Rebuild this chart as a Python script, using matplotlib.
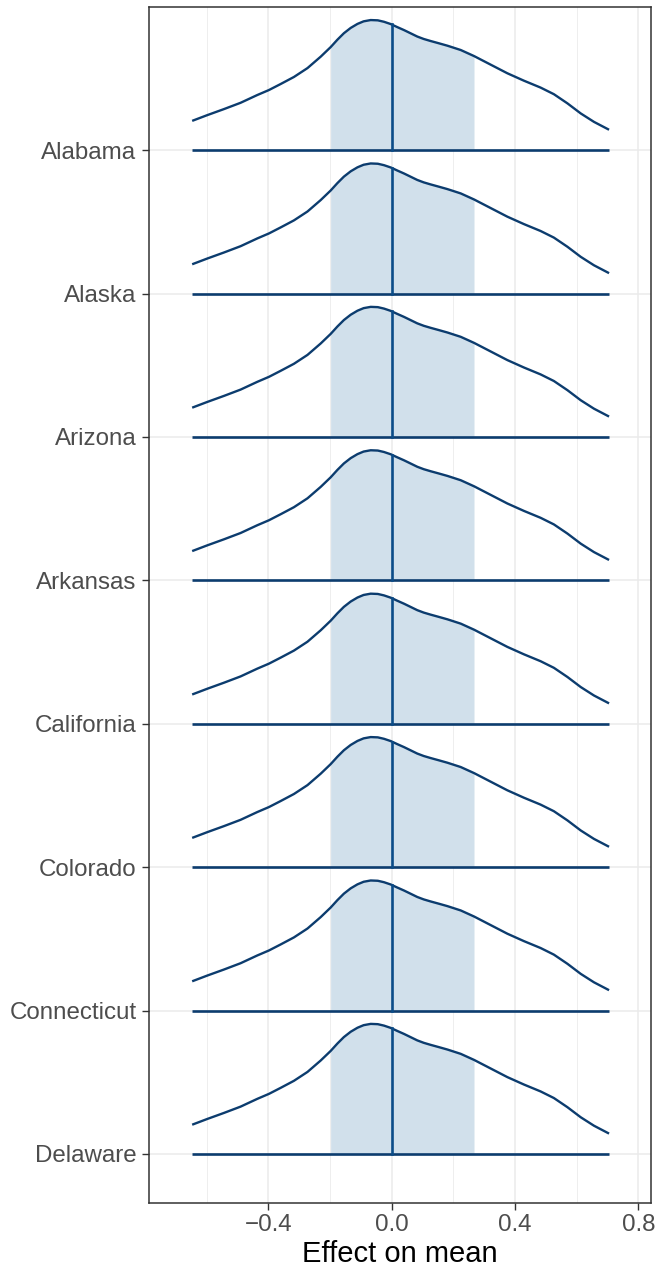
import numpy as np
import matplotlib
import matplotlib.pyplot as plt
matplotlib.use('agg')

# states, top to bottom
STATES = ['Alabama', 'Alaska', 'Arizona', 'Arkansas',
          'California', 'Colorado', 'Connecticut', 'Delaware']

# density curve (same for every state), height in row units
DENS_X = [-0.647, -0.598, -0.544, -0.490, -0.436, -0.398, -0.360, -0.317,
          -0.273, -0.230, -0.198, -0.176, -0.155, -0.133, -0.111, -0.091,
          -0.068, -0.045, -0.025, -0.003, 0.018, 0.040, 0.062, 0.083,
          0.104, 0.126, 0.153, 0.181, 0.224, 0.267, 0.321, 0.375,
          0.429, 0.483, 0.526, 0.570, 0.613, 0.656, 0.705]
DENS_Y = [0.204, 0.244, 0.286, 0.330, 0.384, 0.419, 0.461, 0.510,
          0.572, 0.652, 0.718, 0.770, 0.815, 0.852, 0.880, 0.898,
          0.907, 0.905, 0.895, 0.879, 0.858, 0.837, 0.814, 0.792,
          0.775, 0.761, 0.745, 0.728, 0.698, 0.656, 0.596, 0.536,
          0.484, 0.436, 0.390, 0.326, 0.256, 0.197, 0.142]

MEDIAN = 0.0
INTERVAL = (-0.198, 0.267)
XTICKS = [-0.4, 0.0, 0.4, 0.8]
XMINOR = [-0.6, -0.2, 0.2, 0.6]

LINE_COL = '#0C3C6E'
MED_COL = '#0B4C88'
FILL_COL = '#D1E0EB'

plt.rcParams['font.family'] = ['Liberation Sans', 'DejaVu Sans']

fig = plt.figure(figsize=(6.56, 12.72), dpi=100)
ax = fig.add_axes([149 / 656, 1 - 1203 / 1272, 502 / 656, 1196 / 1272])

dx = np.array(DENS_X)
dy = np.array(DENS_Y)
n = len(STATES)
rows = np.arange(n, 0, -1)

for v in XTICKS:
    ax.axvline(v, color='#EBEBEB', lw=1.1, zorder=0)
for v in XMINOR:
    ax.axvline(v, color='#EBEBEB', lw=0.6, zorder=0)
for r in rows:
    ax.axhline(r, color='#EBEBEB', lw=1.1, zorder=0)

for state, r in zip(STATES, rows):
    mask = (dx >= INTERVAL[0] - 1e-9) & (dx <= INTERVAL[1] + 1e-9)
    ax.fill_between(dx[mask], r, r + dy[mask], color=FILL_COL, lw=0, zorder=1)
    ax.plot(dx, r + dy, color=LINE_COL, lw=1.7, zorder=3,
            solid_capstyle='butt', solid_joinstyle='round')
    ax.plot([dx[0], dx[-1]], [r, r], color=LINE_COL, lw=1.9, zorder=3,
            solid_capstyle='butt')
    top = np.interp(MEDIAN, dx, dy)
    ax.plot([MEDIAN, MEDIAN], [r, r + top], color=MED_COL, lw=1.9, zorder=4)

ax.set_xlim(-0.787, 0.841)
ax.set_ylim(0.658, 8.998)
ax.set_xticks(XTICKS)
ax.set_xticklabels(['\u22120.4', '0.0', '0.4', '0.8'])
ax.set_yticks(rows)
ax.set_yticklabels(STATES)
ax.tick_params(axis='both', length=5, width=1, color='#333333',
               labelcolor='#4D4D4D', labelsize=17.4)
ax.tick_params(axis='x', pad=3)
ax.tick_params(axis='y', pad=4)
for s in ax.spines.values():
    s.set_color('#333333')
    s.set_linewidth(1.1)
ax.set_xlabel('Effect on mean', fontsize=21, color='black', labelpad=3)

fig.savefig('out.png', dpi=100)
